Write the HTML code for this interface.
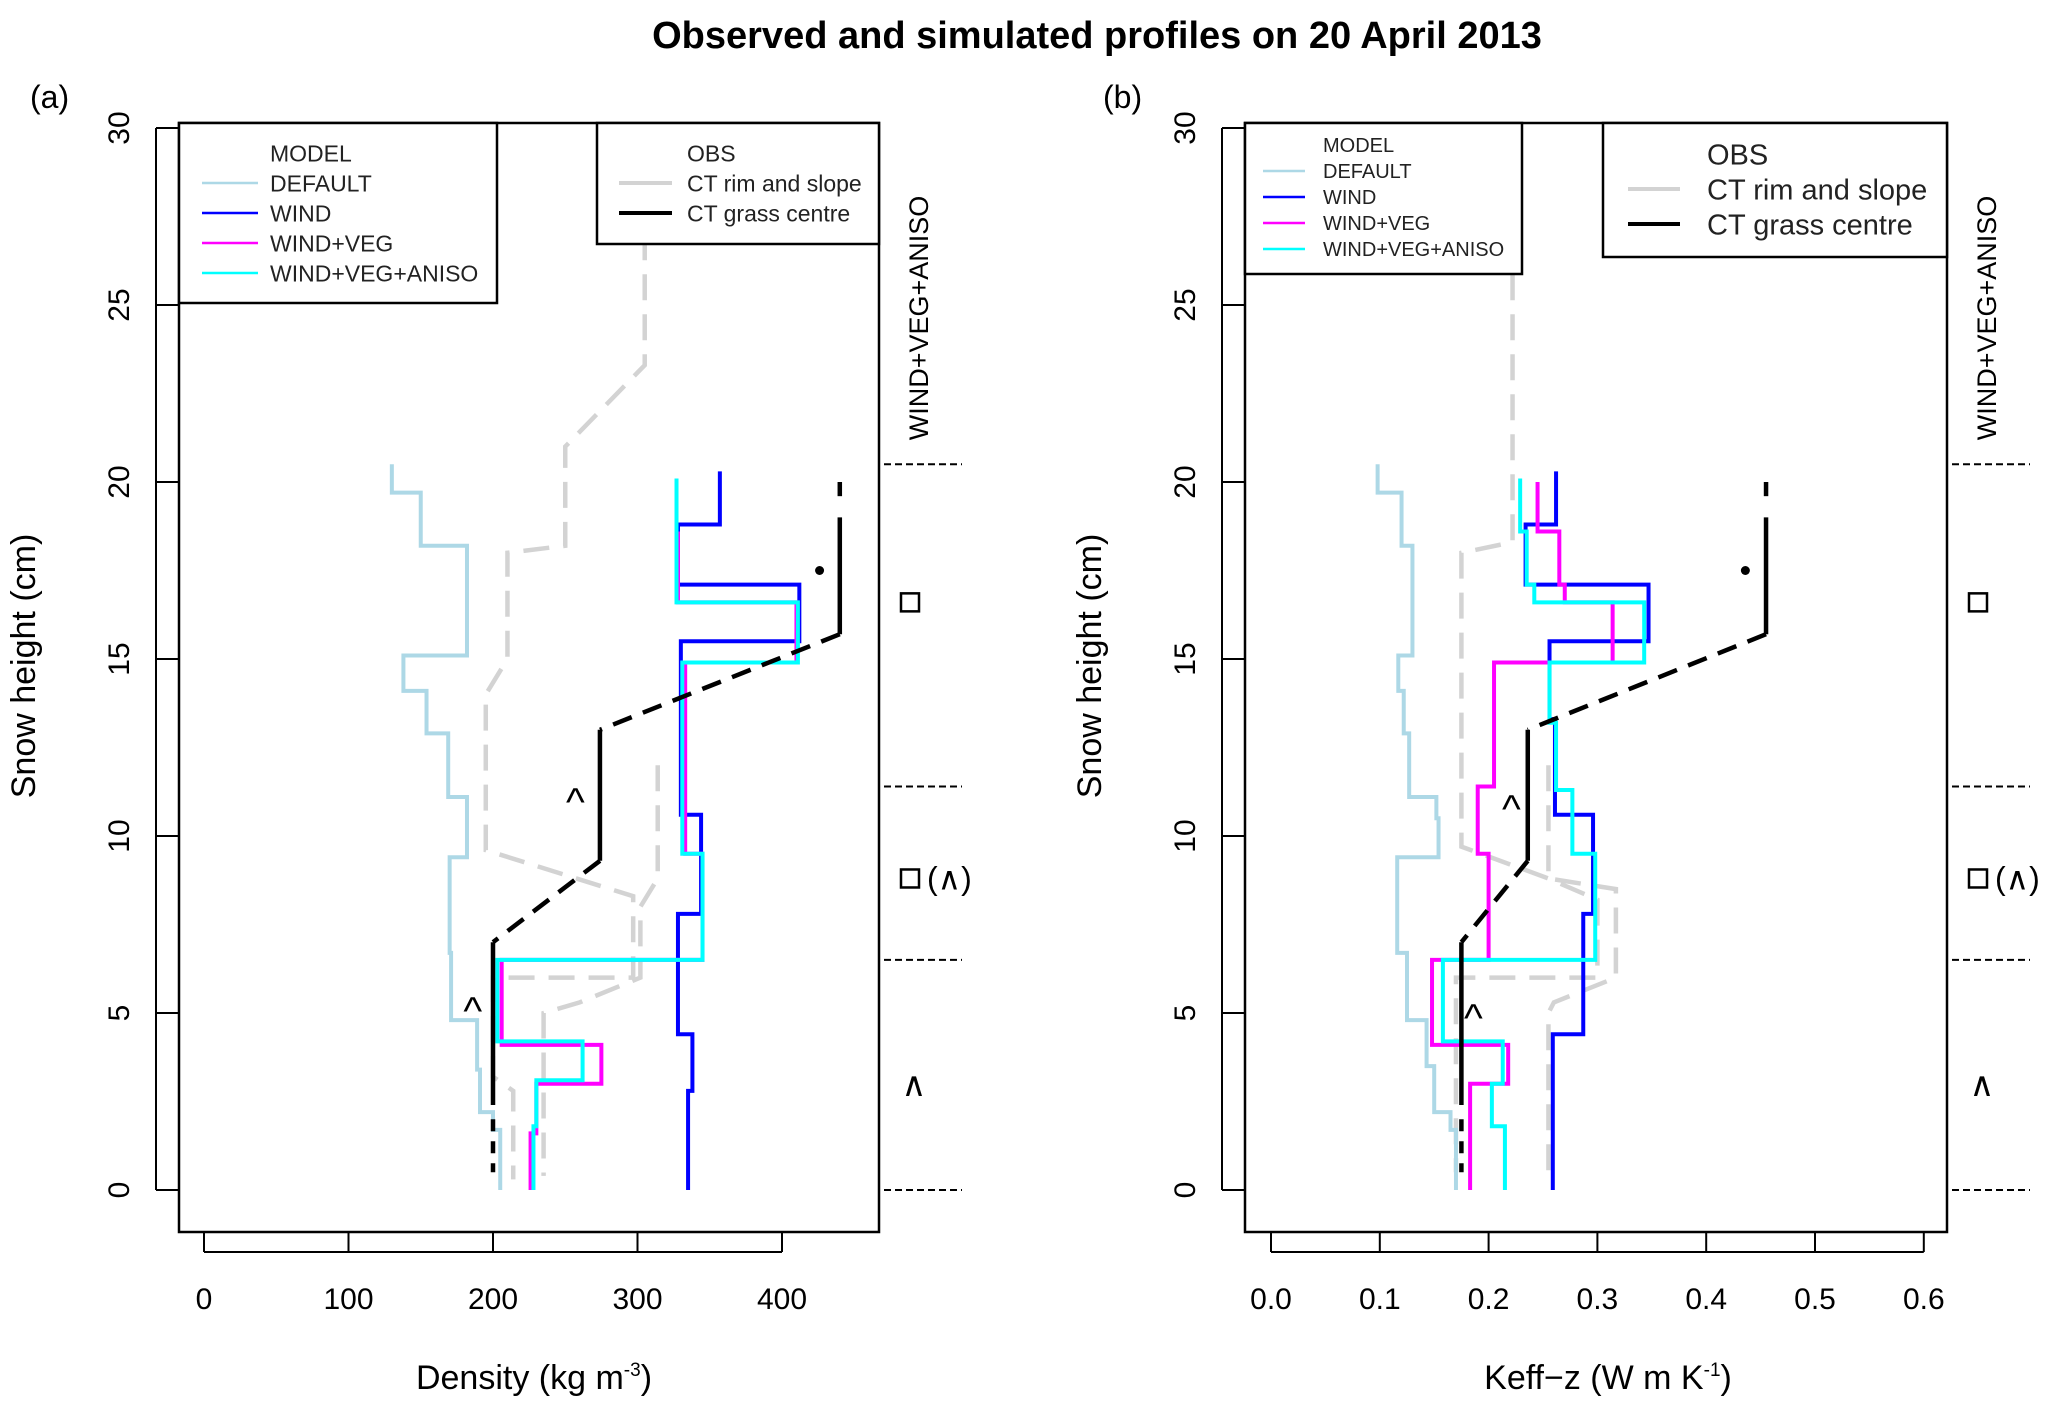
<!DOCTYPE html>
<html><head><meta charset="utf-8"><style>
html,body{margin:0;padding:0;background:#fff;}
svg{display:block;font-family:"Liberation Sans",sans-serif;}
</style></head><body>
<svg id="c" width="2067" height="1419" viewBox="0 0 2067 1419" xmlns="http://www.w3.org/2000/svg">
<text x="1097" y="48" text-anchor="middle" font-size="38" font-weight="bold">Observed and simulated profiles on 20 April 2013</text>
</svg>
<script>
// Panel (a) density data
const aDefX=[130,130,150,150,182,182,138,138,154,154,169,169,182,182,170,170,171,171,189,189,191,191,200,200,205,205];
const aDefY=[20.5,19.7,19.7,18.2,18.2,15.1,15.1,14.1,14.1,12.9,12.9,11.1,11.1,9.4,9.4,6.7,6.7,4.8,4.8,3.4,3.4,2.2,2.2,1.7,1.7,0];
const aWindX=[357,357,328,328,412,412,330,330,344,344,328,328,338,338,335,335];
const aWindY=[20.3,18.8,18.8,17.1,17.1,15.5,15.5,10.6,10.6,7.8,7.8,4.4,4.4,2.8,2.8,0];
const aVegX=[328,328,410,410,333,333,345,345,206,206,275,275,230,230,226,226];
const aVegY=[18.6,16.6,16.6,14.9,14.9,9.5,9.5,6.5,6.5,4.1,4.1,3.0,3.0,1.6,1.6,0];
const aAnX=[327,327,411,411,331,331,345,345,203,203,262,262,230,230,228,228];
const aAnY=[20.1,16.6,16.6,14.9,14.9,9.5,9.5,6.5,6.5,4.2,4.2,3.1,3.1,1.8,1.8,0];
const aRim1X=[305,305,250,250,210,210,195,195,297,297,200,200,214,214];
const aRim1Y=[27,23.3,21,18.2,18,15,14,9.6,8.3,6,6,3.2,2.8,0.3];
const aRim2X=[314,314,302,302,260,235,235];
const aRim2Y=[12,8.8,8.0,6,5.3,5,0.4];
const aGrassX=[440,274,274,200,200];
const aGrassY=[15.7,13,9.3,7.0,2.4];
const aGrassTopX=[440,440];const aGrassTopY=[19,15.7];
const aGrassTip=[440,20,19.6];
const aDot=[426,17.5];
const aGrassBot=[200,2.0,0.5];
const aXTicks=[0,100,200,300,400];
// Panel (b) conductivity data
const bDefX=[0.098,0.098,0.12,0.12,0.13,0.13,0.117,0.117,0.122,0.122,0.127,0.127,0.152,0.152,0.154,0.154,0.116,0.116,0.125,0.125,0.143,0.143,0.15,0.15,0.165,0.165,0.17,0.17];
const bDefY=[20.5,19.7,19.7,18.2,18.2,15.1,15.1,14.1,14.1,12.9,12.9,11.1,11.1,10.5,10.5,9.4,9.4,6.7,6.7,4.8,4.8,3.5,3.5,2.2,2.2,1.7,1.7,0];
const bWindX=[0.262,0.262,0.234,0.234,0.347,0.347,0.256,0.256,0.261,0.261,0.296,0.296,0.287,0.287,0.259,0.259];
const bWindY=[20.3,18.8,18.8,17.1,17.1,15.5,15.5,13.3,13.3,10.6,10.6,7.8,7.8,4.4,4.4,0];
const bVegX=[0.245,0.245,0.265,0.265,0.27,0.27,0.314,0.314,0.205,0.205,0.19,0.19,0.2,0.2,0.148,0.148,0.218,0.218,0.183,0.183];
const bVegY=[20,18.6,18.6,17.1,17.1,16.6,16.6,14.9,14.9,11.4,11.4,9.5,9.5,6.5,6.5,4.1,4.1,3.0,3.0,0];
const bAnX=[0.229,0.229,0.235,0.235,0.242,0.242,0.343,0.343,0.256,0.256,0.262,0.262,0.277,0.277,0.298,0.298,0.158,0.158,0.213,0.213,0.203,0.203,0.215,0.215];
const bAnY=[20.1,18.6,18.6,17.1,17.1,16.6,16.6,14.9,14.9,13.2,13.2,11.3,11.3,9.5,9.5,6.5,6.5,4.2,4.2,3.0,3.0,1.8,1.8,0];
const bRim1X=[0.222,0.222,0.175,0.175,0.255,0.3,0.3,0.17,0.17];
const bRim1Y=[27,18.3,18.0,9.7,8.8,8.2,6.0,6.0,0.5];
const bRim2X=[0.255,0.255,0.317,0.317,0.26,0.255,0.255];
const bRim2Y=[12,8.8,8.5,6,5.3,5,0.5];
const bGrassX=[0.455,0.236,0.236,0.175,0.175];
const bGrassY=[15.7,13,9.3,7.0,2.4];
const bGrassTopX=[0.455,0.455];const bGrassTopY=[19,15.7];
const bGrassTip=[0.455,20,19.6];
const bDot=[0.436,17.5];
const bGrassBot=[0.175,2.0,0.5];
const bXTicks=[0.0,0.1,0.2,0.3,0.4,0.5,0.6];
const yTicks=[0,5,10,15,20,25,30];
const layerBounds=[20.5,11.4,6.5,0];

const NS="http://www.w3.org/2000/svg";
const svg=document.getElementById('c');
function el(tag,attrs,parent){const e=document.createElementNS(NS,tag);for(const k in attrs)e.setAttribute(k,attrs[k]);(parent||svg).appendChild(e);return e;}
const yS=v=>1190-v*35.4;

function panel(P){
  const g=el('g',{});
  
  
  const xS=v=>P.x0+(v-P.t0)*P.k;
  const lab=el('text',{x:P.labX,y:108,'font-size':32},g);lab.textContent=P.label;
  
  
  const box=el('rect',{x:P.bx0,y:123,width:P.bx1-P.bx0,height:1232-123,fill:'none',stroke:'#000','stroke-width':2.5},g);
  
  
  el('line',{x1:P.bx0-23,x2:P.bx0-23,y1:yS(0),y2:yS(30),stroke:'#000','stroke-width':2},g);
  yTicks.forEach(t=>{
    el('line',{x1:P.bx0-23,x2:P.bx0,y1:yS(t),y2:yS(t),stroke:'#000','stroke-width':2},g);
    const tx=el('text',{x:0,y:0,'font-size':30,'text-anchor':'middle',transform:`translate(${P.bx0-50},${yS(t)}) rotate(-90)`},g);
    tx.textContent=t;
    
    
  });
  const yt=el('text',{x:0,y:0,'font-size':34,'text-anchor':'middle',transform:`translate(${P.bx0-144},666) rotate(-90)`},g);
  yt.textContent='Snow height (cm)';
  
  
  const xt0=P.xTicks[0],xt1=P.xTicks[P.xTicks.length-1];
  el('line',{x1:xS(xt0),x2:xS(xt1),y1:1252,y2:1252,stroke:'#000','stroke-width':2},g);
  P.xTicks.forEach(t=>{
    el('line',{x1:xS(t),x2:xS(t),y1:1232,y2:1252,stroke:'#000','stroke-width':2},g);
    const tx=el('text',{x:xS(t),y:1309,'font-size':30,'text-anchor':'middle'},g);
    tx.textContent=P.fmt(t);
    
    
  });
  const xt=el('text',{x:P.xtX,y:1389,'font-size':34,'text-anchor':'middle'},g);
  xt.innerHTML=P.xTitle;
  
  
  function line(xs,ys,col,w,dash,name){
    const p=el('polyline',{points:xs.map((x,i)=>xS(x)+','+yS(ys[i])).join(' '),fill:'none',stroke:col,'stroke-width':w,'stroke-dasharray':dash||'none'},g);
    
    
  }
  line(P.rim1X,P.rim1Y,'#d3d3d3',4.5,'26 14','obs-rim-slope-profile-1');
  line(P.rim2X,P.rim2Y,'#d3d3d3',4.5,'26 14','obs-rim-slope-profile-2');
  line(P.defX,P.defY,'#add8e6',4,null,'default-model-line');
  line(P.windX,P.windY,'#0000ff',4,null,'wind-model-line');
  line(P.vegX,P.vegY,'#ff00ff',4,null,'wind-veg-model-line');
  line(P.anX,P.anY,'#00ffff',4,null,'wind-veg-aniso-model-line');
  // grass centre: diagonals dashed, verticals solid
  for(let i=0;i<P.grassX.length-1;i++){
    const vert=P.grassX[i]===P.grassX[i+1];
    line([P.grassX[i],P.grassX[i+1]],[P.grassY[i],P.grassY[i+1]],'#000',4.5,vert?null:'20 12','obs-grass-centre-segment');
  }
  line(P.gTopX,P.gTopY,'#000',4.5,null,'obs-grass-centre-top');
  line([P.gTip[0],P.gTip[0]],[P.gTip[1],P.gTip[2]],'#000',4.5,null,'obs-grass-centre-tip');
  const gb=P.gBot;
  line([gb[0],gb[0]],[gb[1],gb[2]],'#000',4.5,'12 10','obs-grass-centre-bottom');
  const d=el('circle',{cx:xS(P.dot[0]),cy:yS(P.dot[1]),r:4.5,fill:'#000'},g);
  
  
  P.carets.forEach(c=>{const t=el('text',{x:xS(c[0]),y:yS(c[1])+22,'font-size':40,'text-anchor':'middle'},g);t.textContent=c[2];
    
    });
  const lm=el('rect',{x:P.bx0,y:123,width:P.lm.w,height:P.lm.h,fill:'#fff',stroke:'#000','stroke-width':2.5},g);
  
  
  const mNames=['MODEL','DEFAULT','WIND','WIND+VEG','WIND+VEG+ANISO'];
  const mCols=[null,'#add8e6','#0000ff','#ff00ff','#00ffff'];
  mNames.forEach((n,i)=>{
    const yy=P.lm.y0+i*P.lm.dy;
    if(mCols[i]){const l=el('line',{x1:P.lm.lx0,x2:P.lm.lx1,y1:yy,y2:yy,stroke:mCols[i],'stroke-width':2.5},g);
      
      }
    const t=el('text',{x:P.lm.tx,y:yy+P.lm.fs*0.36,'font-size':P.lm.fs,fill:'#222'},g);t.textContent=n;
    
    
  });
  const lo=el('rect',{x:P.lo.x,y:123,width:P.bx1-P.lo.x,height:P.lo.h,fill:'#fff',stroke:'#000','stroke-width':2.5},g);
  
  
  const oNames=['OBS','CT rim and slope','CT grass centre'];const oCols=[null,'#d3d3d3','#000'];
  oNames.forEach((n,i)=>{
    const yy=P.lo.y0+i*P.lo.dy;
    if(oCols[i]){const l=el('line',{x1:P.lo.lx0,x2:P.lo.lx1,y1:yy,y2:yy,stroke:oCols[i],'stroke-width':4},g);
      
      }
    const t=el('text',{x:P.lo.tx,y:yy+P.lo.fs*0.36,'font-size':P.lo.fs,fill:'#222'},g);t.textContent=n;
    
    
  });
  layerBounds.forEach(b=>{const l=el('line',{x1:P.bx1+5,x2:P.bx1+83,y1:yS(b),y2:yS(b),stroke:'#000','stroke-width':2,'stroke-dasharray':'7 4'},g);
    
    });
  const an=el('text',{x:0,y:0,'font-size':27,'text-anchor':'middle',transform:`translate(${P.bx1+49},318) rotate(-90)`},g);
  an.textContent='WIND+VEG+ANISO';
  
  
  const sq=[[16.6,''],[8.8,'(^)']];
  sq.forEach(s=>{const r=el('rect',{x:P.bx1+22,y:yS(s[0])-9,width:18,height:18,fill:'none',stroke:'#000','stroke-width':2.5},g);
    
    
    if(s[1]){const t=el('text',{x:P.bx1+48,y:yS(s[0])+11,'font-size':32},g);t.textContent='(∧)';
      
      }});
  const ca=el('text',{x:P.bx1+35,y:yS(3.0)+12,'font-size':34,'text-anchor':'middle'},g);ca.textContent='∧';
  
  
}

panel({id:'density',label:'(a)',labX:30,bx0:179,bx1:879,x0:204,t0:0,k:1.445,xTicks:aXTicks,fmt:t=>String(t),
  xtX:534,xTitle:'Density (kg m<tspan font-size="19" dy="-13">-3</tspan><tspan dy="13">)</tspan>',
  defX:aDefX,defY:aDefY,windX:aWindX,windY:aWindY,vegX:aVegX,vegY:aVegY,anX:aAnX,anY:aAnY,
  rim1X:aRim1X,rim1Y:aRim1Y,rim2X:aRim2X,rim2Y:aRim2Y,grassX:aGrassX,grassY:aGrassY,gTopX:aGrassTopX,gTopY:aGrassTopY,gTip:aGrassTip,dot:aDot,gBot:aGrassBot,
  carets:[[257,11.2,'^'],[186,5.3,'^']],
  lm:{w:318,h:180,y0:153,dy:30,lx0:202,lx1:258,tx:270,fs:23},
  lo:{x:597,h:121,y0:153,dy:30,lx0:619,lx1:672,tx:687,fs:23}});
panel({id:'keff',label:'(b)',labX:1103,bx0:1245,bx1:1947,x0:1271,t0:0,k:1088,xTicks:bXTicks,fmt:t=>t.toFixed(1),
  xtX:1608,xTitle:'Keff−z (W m K<tspan font-size="19" dy="-13">-1</tspan><tspan dy="13">)</tspan>',
  defX:bDefX,defY:bDefY,windX:bWindX,windY:bWindY,vegX:bVegX,vegY:bVegY,anX:bAnX,anY:bAnY,
  rim1X:bRim1X,rim1Y:bRim1Y,rim2X:bRim2X,rim2Y:bRim2Y,grassX:bGrassX,grassY:bGrassY,gTopX:bGrassTopX,gTopY:bGrassTopY,gTip:bGrassTip,dot:bDot,gBot:bGrassBot,
  carets:[[0.221,11.0,'^'],[0.186,5.1,'^']],
  lm:{w:277,h:151,y0:145,dy:26,lx0:1263,lx1:1305,tx:1323,fs:20},
  lo:{x:1603,h:134,y0:154,dy:35,lx0:1628,lx1:1680,tx:1707,fs:29}});
</script>
</body></html>
